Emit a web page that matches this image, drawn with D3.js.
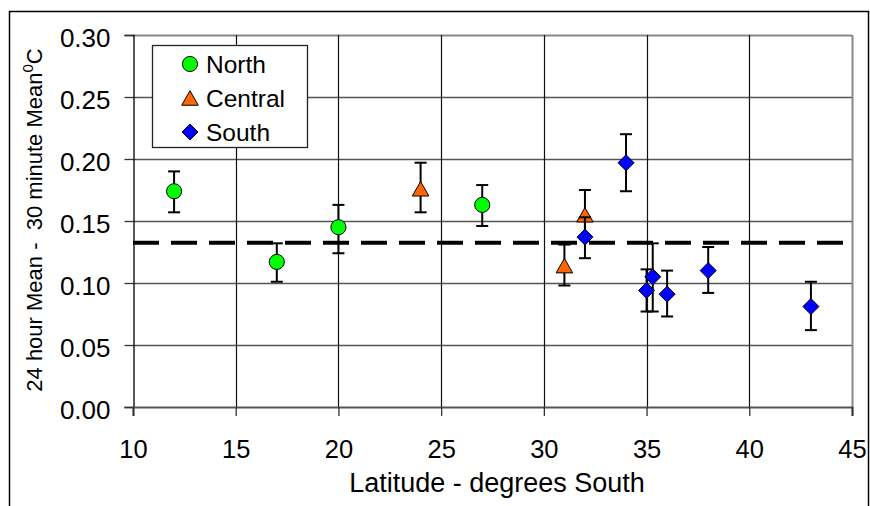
<!DOCTYPE html>
<html>
<head>
<meta charset="utf-8">
<script src="https://cdn.jsdelivr.net/npm/d3@7"></script>
<style>
  html, body { margin: 0; padding: 0; background: #fff; }
  svg { display: block; font-family: "Liberation Sans", Arial, sans-serif; }
</style>
</head>
<body>
<div id="chart"></div>
<script>
const width = 870;
const height = 506;

// data
const northLat = [12, 17, 20, 27];
const northMean = [0.174, 0.117, 0.145, 0.163];
const northHi = [0.190, 0.132, 0.163, 0.179];
const northLo = [0.157, 0.101, 0.124, 0.146];

const centralLat = [24, 31, 32];
const centralMean = [0.176, 0.114, 0.155];
const centralHi = [0.197, 0.131, 0.175];
const centralLo = [0.157, 0.098, 0.137];

const southLat = [32, 34, 35, 35.3, 36, 38, 43];
const southMean = [0.137, 0.197, 0.094, 0.105, 0.091, 0.110, 0.081];
const southHi = [0.153, 0.220, 0.111, 0.132, 0.110, 0.129, 0.101];
const southLo = [0.120, 0.174, 0.077, 0.077, 0.073, 0.092, 0.062];

const overallMean = 0.1325;

const xTicks = [10, 15, 20, 25, 30, 35, 40, 45];
const yTicks = [0, 0.05, 0.10, 0.15, 0.20, 0.25, 0.30];

const margin = { left: 133, right: 18, top: 35, bottom: 99 };

const x = d3.scaleLinear().domain([10, 45]).range([margin.left, width - margin.right]);
const y = d3.scaleLinear().domain([0, 0.30]).range([height - margin.bottom, margin.top]);

const svg = d3.select('#chart').append('svg')
    .attr('width', width)
    .attr('height', height);

// chart area border
svg.append('rect')
    .attr('x', 9.5).attr('y', 11.5)
    .attr('width', 859).attr('height', 520)
    .attr('fill', 'none')
    .attr('stroke', '#000')
    .attr('stroke-width', 1.5);

// horizontal gridlines
svg.append('g')
  .selectAll('line')
  .data(yTicks.slice(1))
  .join('line')
    .attr('x1', x(10)).attr('x2', x(45))
    .attr('y1', d => Math.round(y(d)) + 0.5)
    .attr('y2', d => Math.round(y(d)) + 0.5)
    .attr('stroke', d => d === 0.30 ? '#888' : '#555')
    .attr('stroke-width', d => d === 0.30 ? 2 : 1.3);

// vertical gridlines
svg.append('g')
  .selectAll('line')
  .data(xTicks.slice(1))
  .join('line')
    .attr('x1', d => Math.round(x(d)) + 0.5)
    .attr('x2', d => Math.round(x(d)) + 0.5)
    .attr('y1', y(0.30)).attr('y2', y(0))
    .attr('stroke', d => d === 45 ? '#888' : '#111')
    .attr('stroke-width', d => d === 45 ? 2 : 1.2);

// y axis
const yAxis = d3.axisLeft(y)
    .tickValues(yTicks)
    .tickSize(9)
    .tickPadding(14)
    .tickFormat(d3.format('.2f'));

svg.append('g')
    .attr('transform', `translate(${x(10) + 0.5},0)`)
    .call(yAxis)
    .call(g => g.select('.domain').attr('stroke', '#000').attr('stroke-width', 1.3))
    .call(g => g.selectAll('.tick line').attr('stroke', '#333').attr('stroke-width', 1.3))
    .call(g => g.selectAll('.tick text')
        .attr('font-size', 26)
        .attr('fill', '#000')
        .attr('dy', '0.45em')
        .attr('font-family', '"Liberation Sans", Arial, sans-serif'));

// x axis
const xAxis = d3.axisBottom(x)
    .tickValues(xTicks)
    .tickSize(9)
    .tickPadding(24);

svg.append('g')
    .attr('transform', `translate(0,${y(0)})`)
    .call(xAxis)
    .call(g => g.select('.domain').attr('stroke', '#555').attr('stroke-width', 2.2))
    .call(g => g.selectAll('.tick line').attr('stroke', '#333').attr('stroke-width', 1.3))
    .call(g => g.selectAll('.tick text')
        .attr('font-size', 25.5)
        .attr('fill', '#000')
        .attr('font-family', '"Liberation Sans", Arial, sans-serif'));

// axis titles
svg.append('text')
    .attr('x', 497).attr('y', 492)
    .attr('text-anchor', 'middle')
    .attr('font-size', 27)
    .text('Latitude - degrees South');

const yTitle = svg.append('text')
    .attr('transform', 'translate(41.5,220) rotate(-90)')
    .attr('text-anchor', 'middle')
    .attr('font-size', 22)
    .attr('xml:space', 'preserve');
yTitle.append('tspan').text('24 hour Mean -  30 minute Mean');
yTitle.append('tspan').attr('font-size', 15).attr('dy', -9).text('0');
yTitle.append('tspan').attr('dy', 9).text('C');

// overall mean, dashed
svg.append('line')
    .attr('x1', x(10)).attr('x2', x(45))
    .attr('y1', y(overallMean)).attr('y2', y(overallMean))
    .attr('stroke', '#000')
    .attr('stroke-width', 4)
    .attr('stroke-dasharray', '26,12');

// triangle centred on its bounding box, square turned 45 degrees for the diamond
const triangle = {
  draw(ctx, size) {
    const w = Math.sqrt(size * 2 / 0.875) / 2;
    const h = w * 0.875;
    ctx.moveTo(0, -h);
    ctx.lineTo(w, h);
    ctx.lineTo(-w, h);
    ctx.closePath();
  }
};
const diamond = {
  draw(ctx, size) {
    const r = Math.sqrt(size / 2);
    ctx.moveTo(0, -r);
    ctx.lineTo(r, 0);
    ctx.lineTo(0, r);
    ctx.lineTo(-r, 0);
    ctx.closePath();
  }
};

const series = [
  { name: 'North', lat: northLat, mean: northMean, hi: northHi, lo: northLo, color: '#00ff00', shape: d3.symbolCircle, size: 180 },
  { name: 'Central', lat: centralLat, mean: centralMean, hi: centralHi, lo: centralLo, color: '#ff6600', shape: triangle, size: 120 },
  { name: 'South', lat: southLat, mean: southMean, hi: southHi, lo: southLo, color: '#0000ff', shape: diamond, size: 128 }
];

series.forEach(s => {
  const pts = s.lat.map((v, i) => ({ lat: v, mean: s.mean[i], hi: s.hi[i], lo: s.lo[i] }));
  const g = svg.append('g');

  // error bars
  const eb = g.selectAll('g.err')
    .data(pts)
    .join('g')
      .attr('class', 'err')
      .attr('stroke', '#000')
      .attr('stroke-width', 2);
  eb.append('line')
      .attr('x1', d => x(d.lat)).attr('x2', d => x(d.lat))
      .attr('y1', d => y(d.hi)).attr('y2', d => y(d.lo));
  eb.append('line')
      .attr('x1', d => x(d.lat) - 6).attr('x2', d => x(d.lat) + 6)
      .attr('y1', d => y(d.hi)).attr('y2', d => y(d.hi));
  eb.append('line')
      .attr('x1', d => x(d.lat) - 6).attr('x2', d => x(d.lat) + 6)
      .attr('y1', d => y(d.lo)).attr('y2', d => y(d.lo));

  // markers
  g.selectAll('path')
    .data(pts)
    .join('path')
      .attr('transform', d => `translate(${x(d.lat)},${y(d.mean)})`)
      .attr('d', d3.symbol().type(s.shape).size(s.size))
      .attr('fill', s.color)
      .attr('stroke', '#000')
      .attr('stroke-width', 1);
});

// legend
const legend = svg.append('g');
legend.append('rect')
    .attr('x', 152.5).attr('y', 45.5)
    .attr('width', 155).attr('height', 102)
    .attr('fill', '#fff')
    .attr('stroke', '#222')
    .attr('stroke-width', 1.3);

const legendRows = legend.selectAll('g.row')
  .data(series)
  .join('g')
    .attr('class', 'row')
    .attr('transform', (d, i) => `translate(190,${64 + i * 34})`);
legendRows.append('path')
    .attr('d', d => d3.symbol().type(d.shape).size(d.size)())
    .attr('fill', d => d.color)
    .attr('stroke', '#000')
    .attr('stroke-width', 1);
legendRows.append('text')
    .attr('x', 16)
    .attr('y', 8.5)
    .attr('font-size', 24.5)
    .text(d => d.name);
</script>
</body>
</html>
